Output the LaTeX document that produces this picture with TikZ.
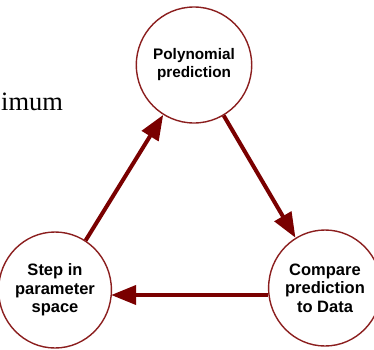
\documentclass[tikz,border=0pt]{standalone}
\usepackage{fontspec}
\setmainfont{Liberation Serif}
\setsansfont{Liberation Sans}
\usetikzlibrary{shapes.geometric,arrows.meta}
\definecolor{ringred}{HTML}{8B1E1E}
\definecolor{arrowred}{HTML}{7A0000}
\tikzset{
  stage/.style={ellipse, draw=ringred, line width=1.4pt, fill=white, inner sep=0pt,
    align=center, font=\sffamily\bfseries\fontsize{16.5}{18.5}\selectfont},
  flow/.style={draw=arrowred, line width=4pt,
    -{Triangle[length=25pt,width=19pt]}}
}
\begin{document}
\begin{tikzpicture}[x=1pt,y=-1pt]
\useasboundingbox (0,0) rectangle (374,349);
\node[anchor=base west, inner sep=0pt, font=\fontsize{26.5}{28}\selectfont] (w) at (1,110) {imum};
\node[stage, minimum width=98pt, minimum height=116pt, font=\sffamily\bfseries\fontsize{15.3}{18}\selectfont] (t) at (194,65) {Polynomial\\prediction};
\node[stage, minimum width=95pt, minimum height=116pt] (l) at (55,290) {Step in\\parameter\\space};
\node[stage, minimum width=95pt, minimum height=116pt] (r) at (325,288) {Compare\\prediction\\to Data};
\coordinate (rs) at ([yshift=-7pt]r.west);
\coordinate (le) at ([xshift=-1pt]l.east |- rs);
\draw[flow] (l) -- (t);
\draw[flow] (t) -- (r);
\draw[flow] (rs) -- (le);
\end{tikzpicture}
\end{document}
